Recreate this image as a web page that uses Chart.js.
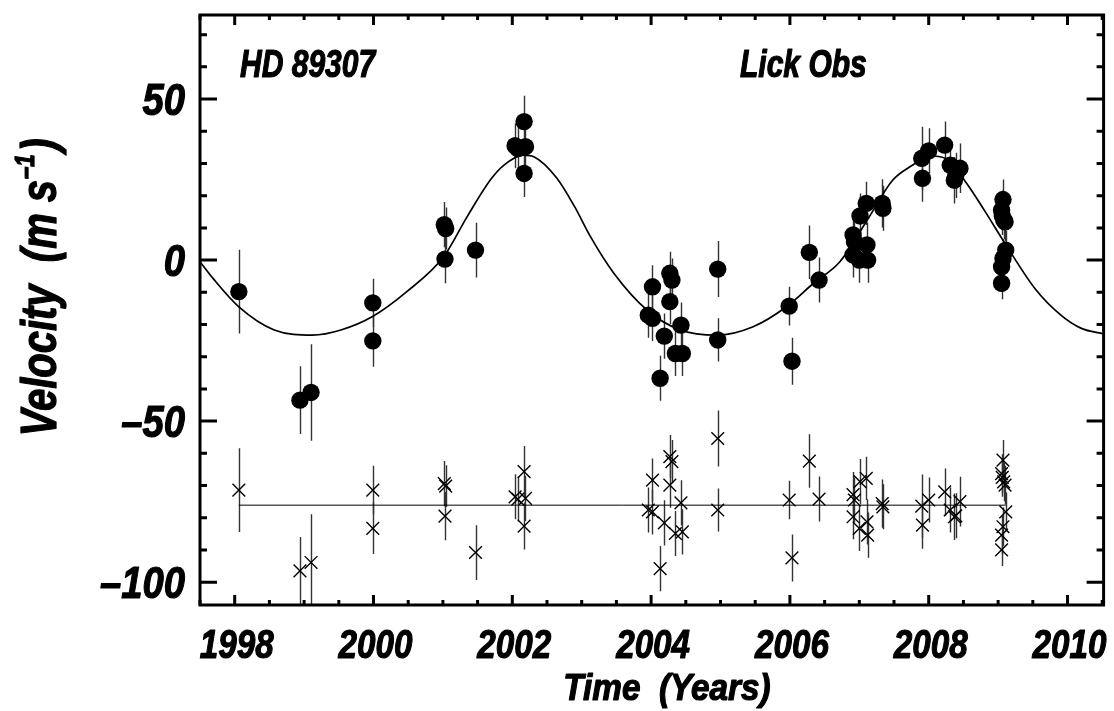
<!DOCTYPE html>
<html>
<head>
<meta charset="utf-8">
<script src="https://cdn.jsdelivr.net/npm/chart.js@4"></script>
<style>
  html, body { margin: 0; padding: 0; background: #fff; }
</style>
</head>
<body>
<canvas id="rv" width="1114" height="711"></canvas>
<script>
const FONT = '"Liberation Sans", Arial, sans-serif'

// observation epochs (years), velocities, errors (m/s) and residuals (drawn offset)
const obsYears = [
  1998.06, 1998.94, 1999.10, 1999.99, 1999.99, 2001.02, 2001.04, 2001.03, 2001.47,
  2002.04, 2002.08, 2002.17, 2002.19, 2002.17,
  2003.96, 2004.02, 2004.02, 2004.13, 2004.19, 2004.27, 2004.30, 2004.27, 2004.35, 2004.45, 2004.43,
  2004.96, 2004.96, 2005.99, 2006.03, 2006.28, 2006.42,
  2006.91, 2006.93, 2006.91, 2007.01, 2007.00, 2007.10, 2007.11, 2007.12, 2007.33, 2007.34,
  2007.90, 2007.91, 2008.00, 2008.23, 2008.31, 2008.37, 2008.39, 2008.45,
  2009.07, 2009.05, 2009.06, 2009.08, 2009.10, 2009.11, 2009.07, 2009.05, 2009.05
]
const obsVel = [
  -9.8, -43.5, -41.1, -13.3, -25.1, 11.0, 9.8, 0.3, 3.1,
  35.5, 34.6, 43.0, 35.2, 26.9,
  -17.1, -18.1, -8.3, -36.7, -23.6, -4.1, -6.2, -12.9, -29.0, -29.0, -20.2,
  -2.8, -24.8, -14.3, -31.4, 2.4, -6.2,
  7.8, 5.7, 1.6, 13.7, 0.0, 17.6, 4.7, 0.0, 17.6, 16.1,
  31.6, 25.4, 33.9, 35.7, 29.5, 24.8, 26.3, 28.5,
  18.8, 15.5, 13.8, 12.5, 11.9, 3.1, 0.5, -2.1, -7.2
]
const obsErr = [
  13, 10.5, 15, 7.5, 8, 7, 6.5, 7.5, 8.5,
  7, 7, 8, 7, 7.3,
  7, 7, 6.7, 7, 7, 6.7, 6.7, 7, 7, 7, 7,
  8.7, 6.7, 6, 7.3, 8.3, 7,
  7, 7, 7, 7, 7, 6.7, 7, 7, 7.5, 7,
  9.8, 7.3, 7, 7.3, 7, 7.2, 7, 7.7,
  6.2, 6, 6, 6, 6, 6, 6, 6, 5
]
const residVel = [
  -71.4, -96.5, -93.9, -71.4, -83.3, -69.4, -70.2, -79.5, -90.8,
  -73.5, -74.2, -65.7, -74.0, -82.6,
  -77.6, -78.2, -68.3, -95.8, -81.6, -61.0, -62.6, -69.9, -84.9, -84.4, -75.4,
  -55.4, -77.6, -74.5, -92.5, -62.4, -74.2,
  -72.8, -74.5, -79.7, -68.8, -83.3, -67.8, -81.3, -85.4, -75.6, -76.6,
  -76.4, -82.3, -74.5, -72.0, -77.6, -79.7, -79.4, -75.0,
  -62.1, -66.3, -67.5, -68.9, -69.9, -78.2, -82.8, -85.4, -90.0
]

// orbital fit
const fitYears = [
  1997.50, 1997.70, 1998.06, 1998.57, 1999.12, 1999.53, 1999.98, 2000.48, 2001.01,
  2001.35, 2001.68, 2001.88, 2002.16, 2002.31, 2002.64, 2002.90, 2003.12, 2003.46,
  2003.94, 2004.42, 2004.95, 2005.47, 2005.95, 2006.34, 2006.72, 2007.10, 2007.48,
  2007.77, 2008.00, 2008.25, 2008.54, 2008.80, 2009.09, 2009.53, 2009.90, 2010.20, 2010.52
]
const fitVel = [
  -0.5, -6.0, -14.5, -21.7, -23.3, -21.7, -17.6, -9.8, 1.0,
  13.5, 24.8, 29.5, 32.6, 32.1, 25.5, 16.5, 7.5, -4.0,
  -15.5, -21.7, -23.3, -20.7, -14.5, -7.2, -0.5, 11.9, 24.8,
  29.5, 32.4, 31.5, 24.0, 15.5, 5.5, -8.8, -17.0, -21.2, -22.9
]

// zero line of the offset residuals
const residLineYears = [1998.06, 2009.11]
const residLineVel = [-76.1, -76.1]

const xTickYears = [1998, 2000, 2002, 2004, 2006, 2008, 2010]
const yTickValues = [-100, -50, 0, 50]

// heavy narrow italic text, squeezed sideways
function squeezed(ctx, text, x, y, size, sx, align) {
  ctx.save()
  ctx.font = 'italic bold ' + size + 'px ' + FONT
  ctx.translate(x, y)
  ctx.scale(sx, 1)
  ctx.textAlign = align
  ctx.textBaseline = 'alphabetic'
  ctx.lineWidth = 1.2
  ctx.lineJoin = 'round'
  ctx.fillText(text, 0, 0)
  ctx.strokeText(text, 0, 0)
  ctx.restore()
}

const errorBars = {
  id: 'errorBars',
  beforeDatasetsDraw(chart) {
    const { ctx, chartArea, scales: { x, y } } = chart
    ctx.save()
    ctx.beginPath()
    ctx.rect(chartArea.left, chartArea.top, chartArea.right - chartArea.left, chartArea.bottom - chartArea.top)
    ctx.clip()
    ctx.strokeStyle = '#333'
    ctx.lineWidth = 1.4
    obsYears.forEach((t, i) => {
      const px = Math.round(x.getPixelForValue(t)) + 0.5
      ;[obsVel[i], residVel[i]].forEach(v => {
        ctx.beginPath()
        ctx.moveTo(px, y.getPixelForValue(v - obsErr[i]))
        ctx.lineTo(px, y.getPixelForValue(v + obsErr[i]))
        ctx.stroke()
      })
    })
    ctx.restore()
  }
}

const frame = {
  id: 'frame',
  afterDraw(chart) {
    const { ctx, chartArea: a, scales: { x, y } } = chart
    ctx.save()
    ctx.strokeStyle = '#000'
    ctx.lineWidth = 3
    ctx.strokeRect(a.left, a.top, a.right - a.left, a.bottom - a.top)

    for (let t = 1997.5; t <= 2010.51; t += 0.5) {
      const px = x.getPixelForValue(t)
      const len = xTickYears.includes(t) ? 10 : 5
      ctx.beginPath()
      ctx.moveTo(px, a.bottom); ctx.lineTo(px, a.bottom - len)
      ctx.moveTo(px, a.top); ctx.lineTo(px, a.top + len)
      ctx.stroke()
    }
    for (let v = -100; v <= 70; v += 10) {
      const py = y.getPixelForValue(v)
      const len = yTickValues.includes(v) ? 17 : 7
      ctx.beginPath()
      ctx.moveTo(a.left, py); ctx.lineTo(a.left + len, py)
      ctx.moveTo(a.right, py); ctx.lineTo(a.right - len, py)
      ctx.stroke()
    }

    ctx.fillStyle = '#000'
    // tick labels
    xTickYears.forEach(t => squeezed(ctx, String(t), x.getPixelForValue(t) + 2, a.bottom + 53, 41, 0.81, 'center'))
    yTickValues.forEach(v => {
      const label = v < 0 ? '–' + Math.abs(v) : String(v)
      squeezed(ctx, label, a.left - 15, y.getPixelForValue(v) + 16, 45, 0.85, 'right')
    })

    squeezed(ctx, 'HD 89307', 240, 77, 38, 0.79, 'left')
    squeezed(ctx, 'Lick Obs', 740, 77, 38, 0.79, 'left')
    squeezed(ctx, 'Time  (Years)', 667, 700, 37, 0.9, 'center')

    // y title with superscript
    ctx.translate(56, 289)
    ctx.rotate(-Math.PI / 2)
    ctx.scale(0.8, 1)
    ctx.lineWidth = 1.3
    ctx.lineJoin = 'round'
    const big = 'italic bold 50px ' + FONT
    const small = 'italic bold 28px ' + FONT
    const p1 = 'Velocity  (m s', p2 = '–1', p3 = ')'
    ctx.font = big
    const w1 = ctx.measureText(p1).width, w3 = ctx.measureText(p3).width
    ctx.font = small
    const w2 = ctx.measureText(p2).width
    const cx = -(w1 + w2 + w3) / 2
    ctx.textAlign = 'left'
    ctx.textBaseline = 'alphabetic'
    ctx.font = big
    ctx.fillText(p1, cx, 0)
    ctx.strokeText(p1, cx, 0)
    ctx.font = small
    ctx.fillText(p2, cx + w1 + 1, -22)
    ctx.strokeText(p2, cx + w1 + 1, -22)
    ctx.font = big
    ctx.fillText(p3, cx + w1 + w2 + 4, 0)
    ctx.strokeText(p3, cx + w1 + w2 + 4, 0)
    ctx.restore()
  }
}

new Chart(document.getElementById('rv'), {
  type: 'scatter',
  data: {
    datasets: [
      {
        type: 'line',
        data: fitYears.map((t, i) => ({ x: t, y: fitVel[i] })),
        borderColor: '#000',
        borderWidth: 1.7,
        pointRadius: 0,
        cubicInterpolationMode: 'monotone',
        fill: false
      },
      {
        type: 'line',
        data: residLineYears.map((t, i) => ({ x: t, y: residLineVel[i] })),
        borderColor: '#000',
        borderWidth: 1,
        pointRadius: 0,
        fill: false
      },
      {
        data: obsYears.map((t, i) => ({ x: t, y: residVel[i] })),
        pointStyle: 'crossRot',
        pointRadius: 9,
        borderColor: '#000',
        borderWidth: 1.4
      },
      {
        data: obsYears.map((t, i) => ({ x: t, y: obsVel[i] })),
        pointStyle: 'circle',
        pointRadius: 8.7,
        backgroundColor: '#000',
        borderColor: '#000',
        borderWidth: 0
      }
    ]
  },
  options: {
    responsive: false,
    animation: false,
    events: [],
    layout: { padding: { left: 0, top: 15, right: 10, bottom: 0 } },
    plugins: {
      legend: { display: false },
      tooltip: { enabled: false }
    },
    scales: {
      x: {
        type: 'linear',
        min: 1997.5,
        max: 2010.52,
        afterBuildTicks: scale => { scale.ticks = xTickYears.map(v => ({ value: v })) },
        afterFit: scale => { scale.height = 106 },
        grid: { display: false, drawTicks: false },
        border: { display: false },
        ticks: { display: false }
      },
      y: {
        type: 'linear',
        min: -107.1,
        max: 76.1,
        afterBuildTicks: scale => { scale.ticks = yTickValues.map(v => ({ value: v })) },
        afterFit: scale => { scale.width = 200 },
        grid: { display: false, drawTicks: false },
        border: { display: false },
        ticks: { display: false }
      }
    }
  },
  plugins: [errorBars, frame]
})
</script>
</body>
</html>
